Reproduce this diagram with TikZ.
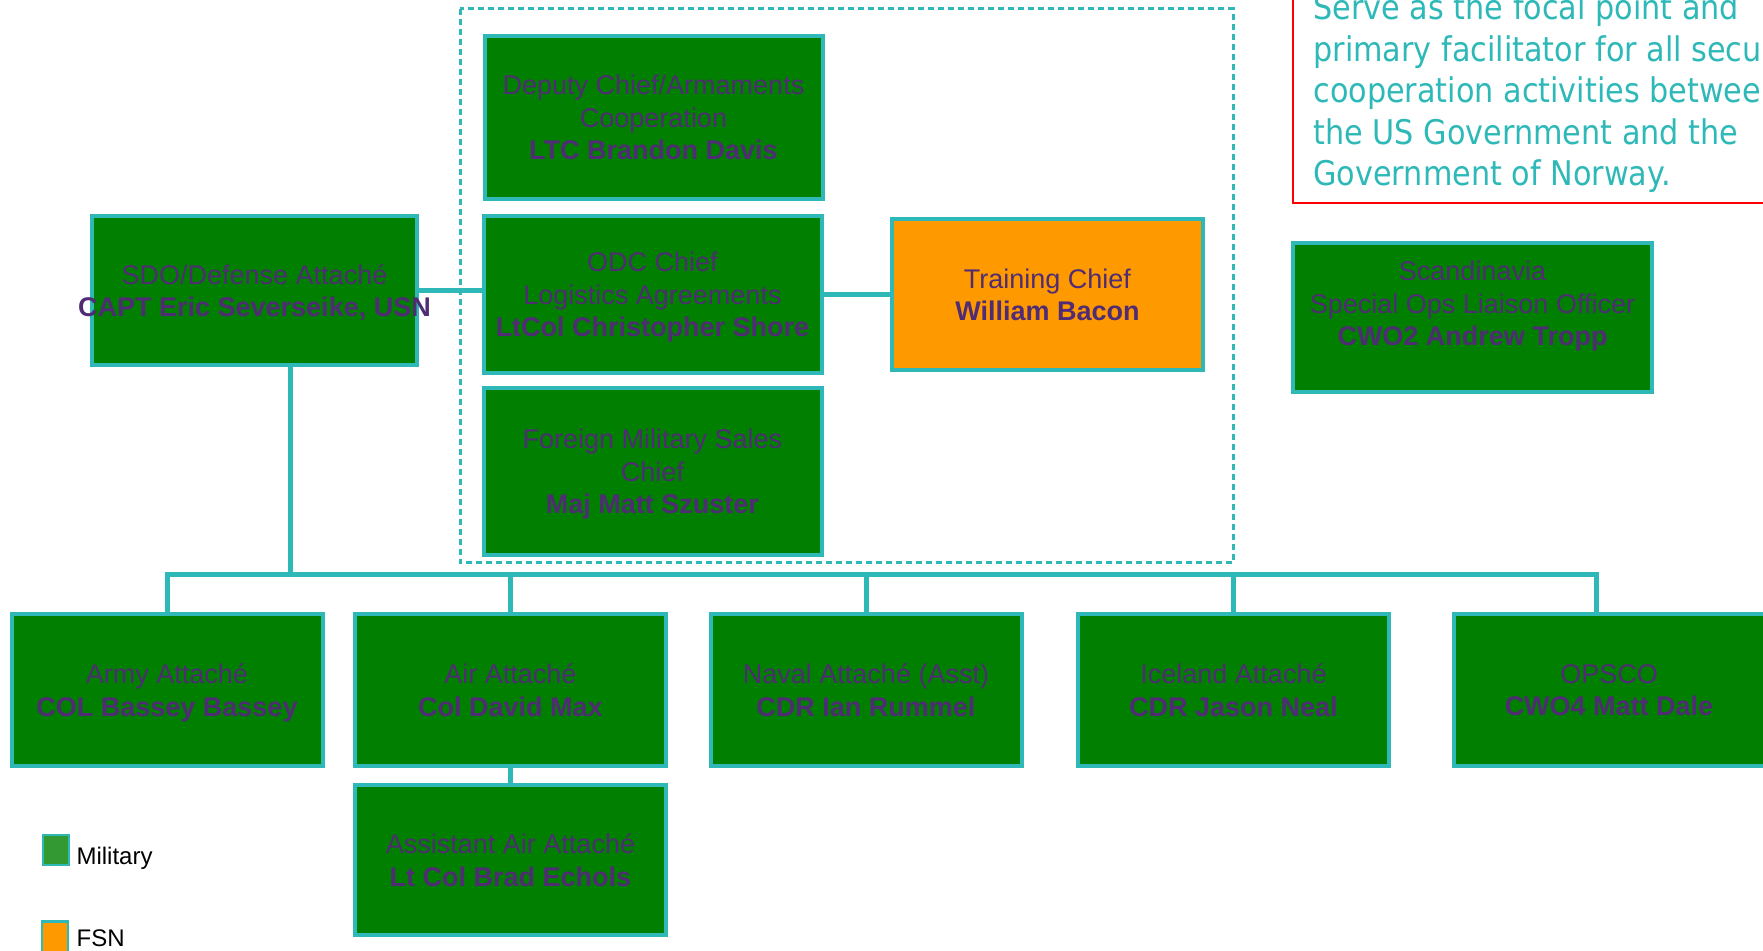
\documentclass[tikz,border=0pt]{standalone}
\usepackage{fontspec}
\setmainfont{Liberation Sans}
\newfontfamily\missionfont[FakeStretch=0.89]{DejaVu Sans}
\usepackage{tikz}
\usetikzlibrary{positioning}
\definecolor{orgteal}{HTML}{2EB8B8}
\definecolor{milgreen}{HTML}{007F00}
\definecolor{leggreen}{HTML}{339933}
\definecolor{fsnorange}{HTML}{FF9900}
\definecolor{namepurple}{HTML}{4F2C73}

\begin{document}
\begin{tikzpicture}[
		x=0.5pt, y=-0.5pt,
		box/.style={draw=orgteal, line width=2pt, fill=milgreen, text=namepurple,
			align=center, inner sep=0pt, text depth=0pt, font=\fontsize{13.5}{16.25}\selectfont},
		midbox/.style={box, minimum width=169pt, minimum height=80pt},
		rowbox/.style={box, minimum width=155.5pt, minimum height=76pt},
		conn/.style={orgteal, line width=2.5pt},
		legbox/.style={draw=orgteal, line width=1.2pt, inner sep=0pt, minimum width=13pt},
		legtext/.style={inner sep=0pt, font=\fontsize{12}{14}\selectfont}
	]
	\useasboundingbox (0,0) rectangle (1763,951);
	\clip (0,0) rectangle (1763,951);
	
	% mission statement
	\draw[red, line width=1pt]
		(1293,-10) rectangle (1790,203);
	\node[anchor=base west, align=left, inner sep=0pt, text=orgteal,
		font=\missionfont\fontsize{17}{20.75}\selectfont] (mission)
		at (1313,186) {Serve as the focal point and\\primary facilitator for all security\\cooperation activities between\\the US Government and the\\Government of Norway.};
	
	% ODC group
	\draw[orgteal, line width=1.5pt, dash pattern=on 3pt off 2pt]
		(460,9) rectangle (1233,563);
	
	\node[box, minimum width=162.5pt, minimum height=74.5pt] (sdo)
		at (254.5,290.5) {SDO/Defense Attaché\\\makebox[0pt]{\textbf{CAPT Eric Severseike, USN}}};
	\node[midbox, minimum height=81.5pt] (deputy)
		at (653.5,117.5) {Deputy Chief/Armaments\\Cooperation\\\textbf{LTC Brandon Davis}};
	\node[midbox, minimum height=78.5pt] (odc)
		at (652.5,294.5) {ODC Chief\\Logistics Agreements\\\textbf{LtCol Christopher Shore}};
	\node[midbox, minimum height=83.5pt] (fms)
		at (652.5,471.5) {Foreign Military Sales\\Chief\\\textbf{Maj Matt Szuster}};
	\node[box, fill=fsnorange, minimum width=155.5pt, minimum height=75.5pt] (training)
		at (1047.5,294.5) {Training Chief\\\textbf{William Bacon}};
	\node[box, minimum width=179.5pt, minimum height=74.5pt] (scandinavia)
		at (1472.5,317.5) {Scandinavia\\Special Ops Liaison Officer\\\textbf{CWO2 Andrew Tropp}\\[-2.25pt]\mbox{}};
	
	% attaches
	\node[rowbox] (army) at (167,690) {Army Attaché\\\textbf{COL Bassey Bassey}};
	\node[rowbox] (air) at (510.5,690) {Air Attaché\\\textbf{Col David Max}};
	\node[rowbox] (naval) at (866,690) {Naval Attaché (Asst)\\\textbf{CDR Ian Rummel}};
	\node[rowbox] (iceland) at (1233.5,690) {Iceland Attaché\\\textbf{CDR Jason Neal}};
	\node[rowbox] (opsco) at (1609,690) {OPSCO\\\textbf{CWO4 Matt Dale}};
	\node[rowbox, minimum height=75pt] (asst) at (510.5,860) {Assistant Air Attaché\\\textbf{Lt Col Brad Echols}};
	
	% connectors
	\coordinate (bus) at (0,575);
	\coordinate (sdodrop) at ([xshift=18pt]sdo.south);
	\coordinate (opsdrop) at ([xshift=-6.5pt]opsco.north);
	
	\draw[conn] (sdodrop) -- (sdodrop |- bus);
	\draw[conn] (army.north) -- (army.north |- bus) -- (opsdrop |- bus) -- (opsdrop);
	\foreach \n in {air,naval,iceland}{
		\draw[conn] (\n.north) -- (\n.north |- bus);
	}
	\draw[conn] (air.south) -- (asst.north);
	\draw[conn] (sdo.east) -- (sdo.east -| odc.west);
	\draw[conn] (odc.east) -- (training.west);
	
	% legend
	\node[legbox, fill=leggreen, minimum height=15pt] (legmil) at (56,850) {};
	\node[legtext, right=3pt of legmil, yshift=-4pt] (milname) {Military};
	\node[legbox, fill=fsnorange, minimum height=16.5pt] (legfsn) at (55,938) {};
	\node[legtext, right=3.5pt of legfsn] (fsnname) {FSN};
\end{tikzpicture}
\end{document}
